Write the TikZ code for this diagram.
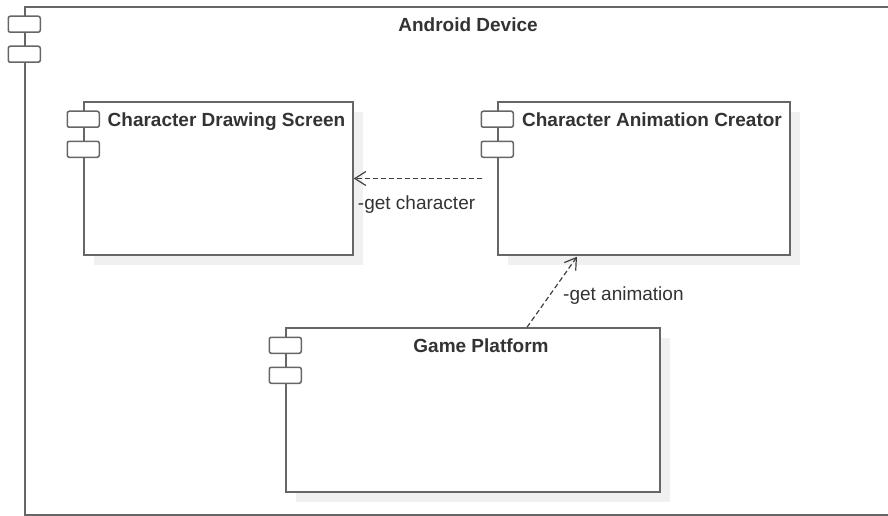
\documentclass[tikz,border=0pt]{standalone}
\usepackage{fontspec}
\setmainfont{Liberation Sans}
\usetikzlibrary{arrows.meta, calc, shadows}

\begin{document}
\begin{tikzpicture}[x=1pt, y=-1pt,
		every node/.style={font=\fontsize{19}{23}\selectfont, text=black!80},
		comp/.style={draw=black!60, line width=1.5pt, fill=white, inner sep=0pt},
		shadowed/.style={drop shadow={shadow xshift=10pt, shadow yshift=-10pt, fill=black!6, opacity=1}},
		tabbox/.style={draw=black!60, line width=1.5pt, fill=white, rounded corners=2pt, minimum width=32pt, minimum height=16pt, inner sep=0pt},
		ttl/.style={font=\fontsize{19}{23}\selectfont\bfseries, inner sep=0pt, anchor=base},
		lbl/.style={inner sep=0pt, anchor=base west},
		dep/.style={draw=black!75, line width=1.2pt, dash pattern=on 5pt off 3pt, -{Straight Barb[length=11pt, width=14pt]}}]
	\useasboundingbox (0,0) rectangle (888,516);

	% Nodes
	\node[comp, minimum width=870pt, minimum height=508pt] (android) at (460,261) {};
	\node[comp, shadowed, minimum width=269pt, minimum height=153pt] (drawing) at (218.5,178.5) {};
	\node[comp, shadowed, minimum width=292pt, minimum height=153pt] (creator) at (644,178.5) {};
	\node[comp, shadowed, minimum width=374pt, minimum height=164pt] (platform) at (473,410) {};

	\foreach \c in {android, drawing, creator, platform} {
		\node[tabbox] (\c-tab1) at ($(\c.north west)+(0,18)$) {};
		\node[tabbox] (\c-tab2) at ($(\c.north west)+(0,48)$) {};
	}

	\node[ttl] (androidT) at ($(android.north)+(8,25)$) {Android Device};
	\node[ttl] (drawingT) at ($(drawing.north)+(8,25)$) {Character Drawing Screen};
	\node[ttl] (creatorT) at ($(creator.north)+(8,25)$) {Character Animation Creator};
	\node[ttl] (platformT) at ($(platform.north)+(8,25)$) {Game Platform};

	% Links
	\coordinate (cstart) at ($(creator.west)+(-15,0)$);
	\coordinate (pstart) at ($(platform.north)+(54,0)$);
	\coordinate (cend) at ($(creator.south)+(-67,1)$);
	\draw[dep] (cstart) -- (drawing.east);
	\draw[dep] (pstart) -- (cend);

	\node[lbl] (getchar) at ($(drawing.east)+(4,30.5)$) {-get character};
	\node[lbl] (getanim) at ($(cend)+(-14,44)$) {-get animation};
\end{tikzpicture}
\end{document}
